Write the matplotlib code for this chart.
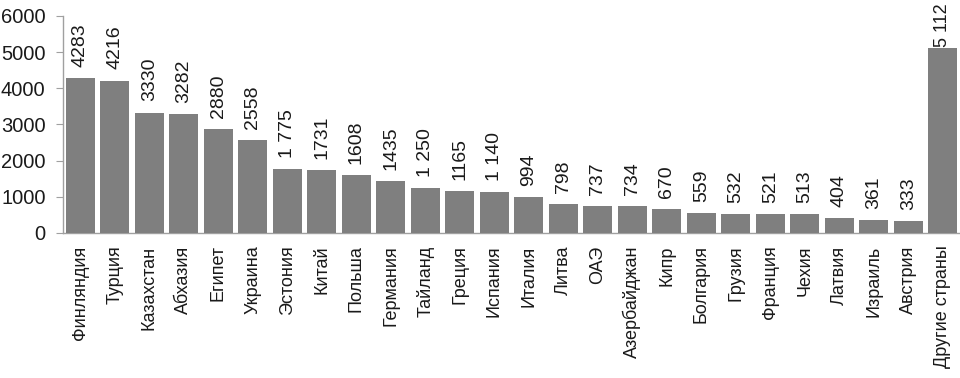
import matplotlib
matplotlib.use('Agg')
import matplotlib.pyplot as plt
import numpy as np

# Данные
countries = [
    'Финляндия', 'Турция', 'Казахстан', 'Абхазия', 'Египет', 'Украина',
    'Эстония', 'Китай', 'Польша', 'Германия', 'Тайланд', 'Греция',
    'Испания', 'Италия', 'Литва', 'ОАЭ', 'Азербайджан', 'Кипр',
    'Болгария', 'Грузия', 'Франция', 'Чехия', 'Латвия', 'Израиль',
    'Австрия', 'Другие страны',
]
values = [4283, 4216, 3330, 3282, 2880, 2558, 1775, 1731, 1608, 1435, 1250,
          1165, 1140, 994, 798, 737, 734, 670, 559, 532, 521, 513, 404, 361,
          333, 5112]
value_labels = ['4283', '4216', '3330', '3282', '2880', '2558', '1 775',
                '1731', '1608', '1435', '1 250', '1165', '1 140', '994', '798',
                '737', '734', '670', '559', '532', '521', '513', '404', '361',
                '333', '5 112']
yticks = [0, 1000, 2000, 3000, 4000, 5000, 6000]

plt.rcParams.update({
    'font.family': 'Liberation Sans',
    'font.size': 12,
})
txt = '#1a1a1a'

fig = plt.figure(figsize=(9.6, 3.78), dpi=100)
ax = fig.add_axes([0.0656, 0.3836, 0.9344, 0.5741])

x = np.arange(len(countries))
ax.bar(x, values, width=0.84, color='#7f7f7f', zorder=3)

# подписи значений над столбцами (последняя прижата к верхнему краю)
for i, (xi, v, lab) in enumerate(zip(x, values, value_labels)):
    last = i == len(values) - 1
    ax.annotate(lab, (xi, v), xytext=(0, 1 if last else 8),
                textcoords='offset points', rotation=90, ha='center',
                va='bottom', fontsize=13 if last else 14, color=txt,
                annotation_clip=False)

ax.set_xlim(-0.5, len(countries) - 0.5)
ax.set_ylim(0, 6000)
ax.set_yticks(yticks)
ax.set_yticklabels([str(t) for t in yticks], fontsize=14.5, color=txt)
ax.set_xticks(x)
ax.set_xticklabels(countries, rotation=90, fontsize=13, color=txt)
ax.tick_params(axis='x', length=0, pad=9)
ax.tick_params(axis='y', length=5, color='#a0a0a0', pad=7.5)

for s in ('top', 'right'):
    ax.spines[s].set_visible(False)
for s in ('left', 'bottom'):
    ax.spines[s].set_color('#a0a0a0')
    ax.spines[s].set_linewidth(1)

fig.savefig('out.png', dpi=100)
